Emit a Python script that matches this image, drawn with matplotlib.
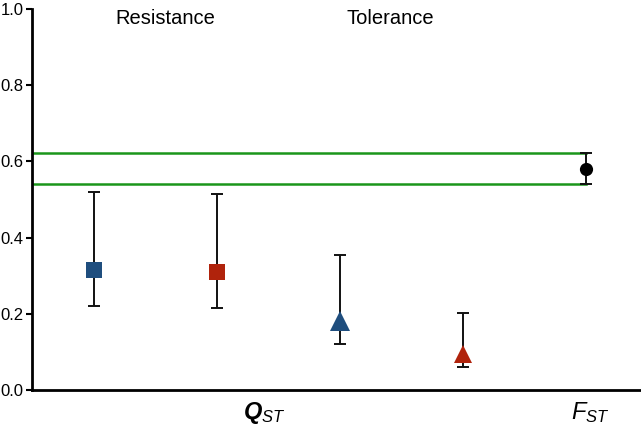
import matplotlib
matplotlib.use("Agg")
import matplotlib.pyplot as plt

plt.rcParams['font.family'] = ['Liberation Sans', 'DejaVu Sans']
plt.rcParams['mathtext.fontset'] = 'custom'
plt.rcParams['mathtext.it'] = 'Liberation Sans:italic'
plt.rcParams['mathtext.bfit'] = 'Liberation Sans:italic:bold'
plt.rcParams['mathtext.rm'] = 'Liberation Sans'

# Data
labels = ["Resistance blue", "Resistance red", "Tolerance blue", "Tolerance red", "FST"]
xpos = [0.5, 1.5, 2.5, 3.5, 4.5]
values = [0.315, 0.31, 0.18, 0.095, 0.58]
upper = [0.52, 0.515, 0.355, 0.203, 0.622]
lower = [0.22, 0.215, 0.12, 0.06, 0.54]
markers = ['s', 's', '^', '^', 'o']
colors = ['#1f4e7e', '#b0230c', '#1f4e7e', '#b0230c', '#000000']
msizes = [12, 12, 14, 13, 9.5]
fst_band = [0.54, 0.622]
yticks = [0.0, 0.2, 0.4, 0.6, 0.8, 1.0]

fig = plt.figure(figsize=(6.41, 4.26), dpi=100)
ax = fig.add_axes([32/641, 36/426, 1 - 32/641, (390-9)/426])

for x, v, u, l, m, c, s in zip(xpos, values, upper, lower, markers, colors, msizes):
    ax.errorbar([x], [v], yerr=[[v - l], [u - v]], fmt='none', ecolor='#111111',
                elinewidth=1.4, capsize=4, capthick=1.4, zorder=2)
    ax.plot([x], [v], marker=m, color=c, markersize=s, markeredgewidth=0, zorder=3)

for y in fst_band:
    ax.plot([0, xpos[-1]], [y, y], color='#1a961a', linewidth=1.8, zorder=1)

ax.set_xlim(0, 609/123)
ax.set_ylim(0, 1.0)
ax.set_yticks(yticks)
ax.set_yticklabels([f"{t:.1f}" for t in yticks], fontsize=12)
ax.set_xticks([])
ax.spines['top'].set_visible(False)
ax.spines['right'].set_visible(False)
ax.spines['left'].set_linewidth(2)
ax.spines['bottom'].set_linewidth(2)
ax.tick_params(axis='y', direction='out', length=4, width=1.5, pad=2)

ax.text(1.08, 0.975, "Resistance", fontsize=14.5, ha='center', va='center')
ax.text(2.91, 0.975, "Tolerance", fontsize=14.5, ha='center', va='center')
ax.text(1.89, -0.06, r"$\mathbfit{Q}_{ST}$", fontsize=17, ha='center', va='center')
ax.text(4.54, -0.06, r"$F_{ST}$", fontsize=17, ha='center', va='center')

fig.savefig("out.png", dpi=100)
